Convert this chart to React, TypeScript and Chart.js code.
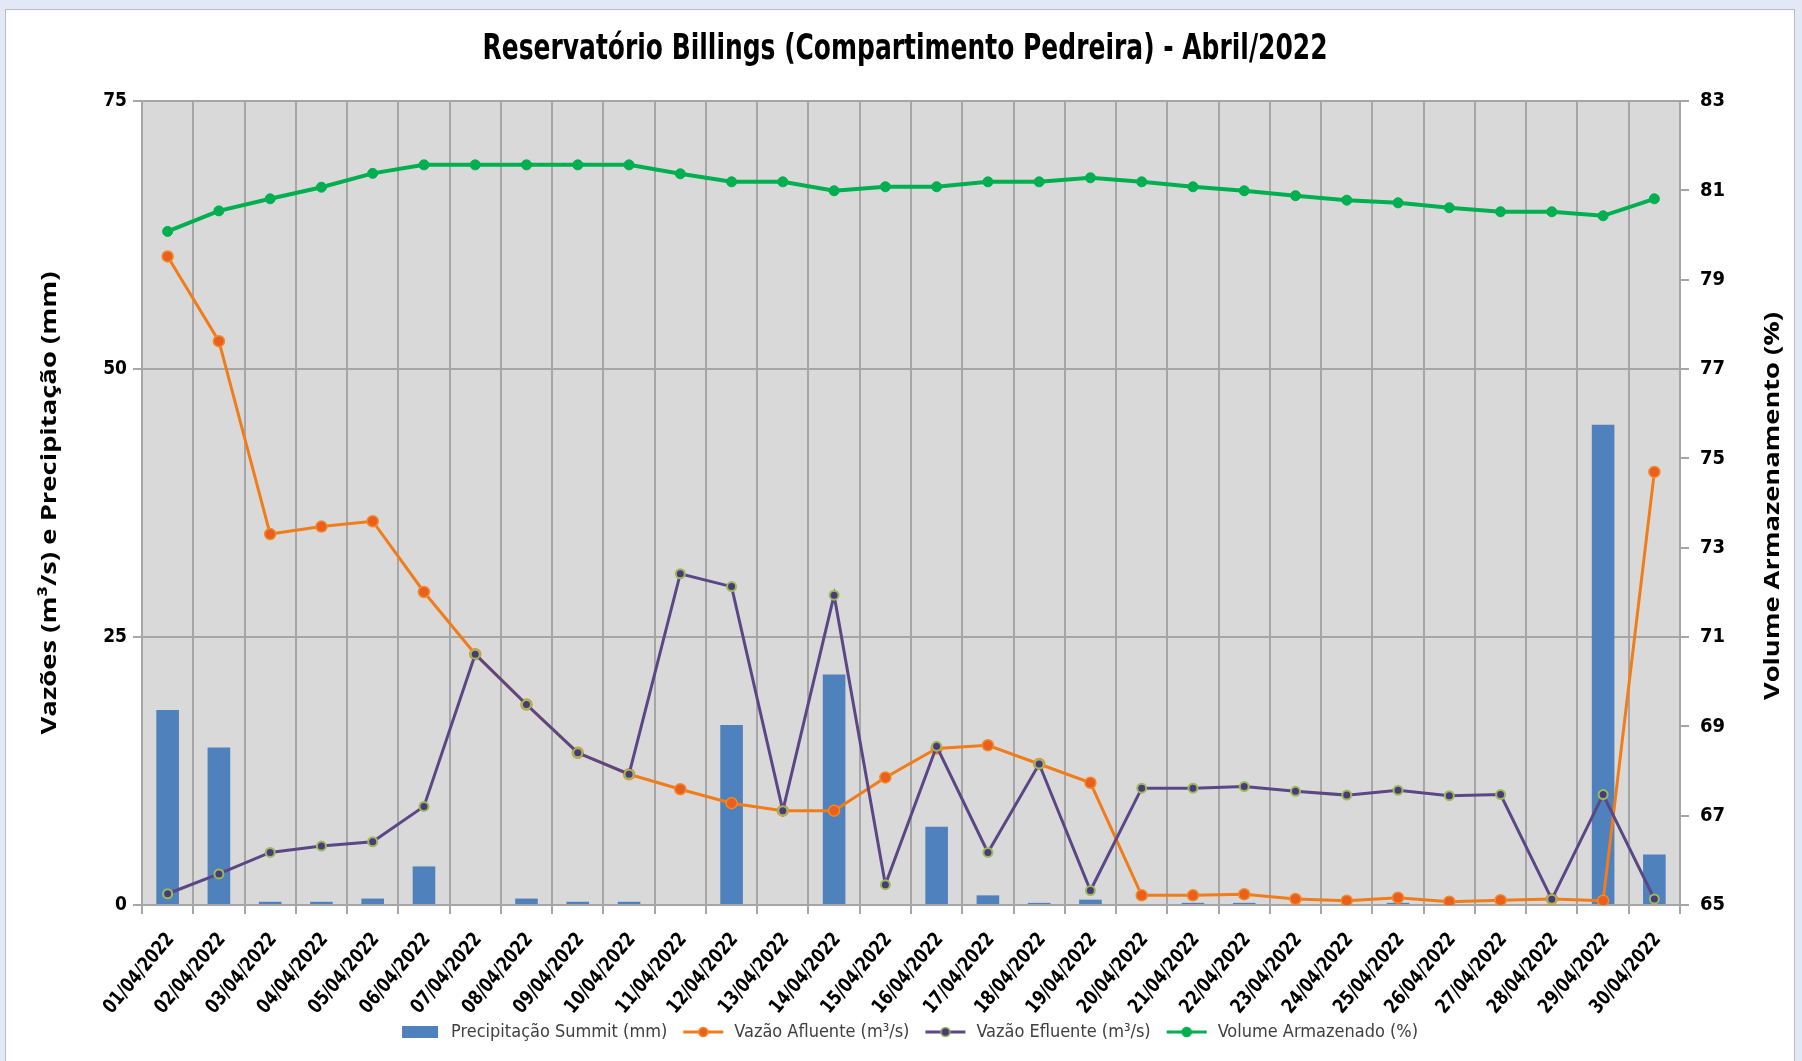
import React, { useEffect, useRef } from "react";
import { Chart, registerables } from "chart.js";

Chart.register(...registerables);

const days = [
  "01/04/2022", "02/04/2022", "03/04/2022", "04/04/2022", "05/04/2022",
  "06/04/2022", "07/04/2022", "08/04/2022", "09/04/2022", "10/04/2022",
  "11/04/2022", "12/04/2022", "13/04/2022", "14/04/2022", "15/04/2022",
  "16/04/2022", "17/04/2022", "18/04/2022", "19/04/2022", "20/04/2022",
  "21/04/2022", "22/04/2022", "23/04/2022", "24/04/2022", "25/04/2022",
  "26/04/2022", "27/04/2022", "28/04/2022", "29/04/2022", "30/04/2022",
];

const precipitacao = [
  18.2, 14.7, 0.3, 0.3, 0.6, 3.6, 0, 0.6, 0.3, 0.3,
  0, 16.8, 0, 21.5, 0, 7.3, 0.9, 0.2, 0.5, 0,
  0.2, 0.2, 0, 0, 0.2, 0, 0, 0, 44.8, 4.7,
];

const vazaoAfluente = [
  60.5, 52.6, 34.6, 35.3, 35.8, 29.2, 23.4, 18.7, 14.2, 12.2,
  10.8, 9.5, 8.8, 8.8, 11.9, 14.6, 14.9, 13.15, 11.4, 0.9,
  0.9, 1.0, 0.56, 0.4, 0.68, 0.31, 0.45, 0.56, 0.4, 40.4,
];

const vazaoEfluente = [
  1.05, 2.9, 4.9, 5.5, 5.9, 9.2, 23.4, 18.7, 14.2, 12.2,
  30.9, 29.7, 8.8, 28.9, 1.9, 14.8, 4.9, 13.15, 1.35, 10.9,
  10.9, 11.05, 10.6, 10.25, 10.7, 10.2, 10.3, 0.53, 10.3, 0.56,
];

const volumeArmazenado = [
  80.08, 80.54, 80.81, 81.07, 81.38, 81.57, 81.57, 81.57, 81.57, 81.57,
  81.37, 81.19, 81.19, 80.99, 81.08, 81.08, 81.19, 81.19, 81.28, 81.19,
  81.08, 80.99, 80.88, 80.78, 80.72, 80.61, 80.52, 80.52, 80.43, 80.81,
];

const leftTickValues = [0, 25, 50, 75];
const rightTickValues = [65, 67, 69, 71, 73, 75, 77, 79, 81, 83];

const TITLE = "Reservatório Billings (Compartimento Pedreira) - Abril/2022";
const LEFT_TITLE = "Vazões (m³/s) e Precipitação (mm)";
const RIGHT_TITLE = "Volume Armazenamento (%)";

const NARROW = "'Liberation Sans Narrow', 'DejaVu Sans Condensed', 'Liberation Sans', sans-serif";
const WIDE = "'Open Sans', 'DejaVu Sans', sans-serif";

function lineIcon(line: string, fill: string, border: string): HTMLCanvasElement {
  const c = document.createElement("canvas");
  c.width = 44;
  c.height = 16;
  const g = c.getContext("2d")!;
  g.strokeStyle = line;
  g.lineWidth = 3;
  g.beginPath();
  g.moveTo(2, 8);
  g.lineTo(42, 8);
  g.stroke();
  g.beginPath();
  g.arc(22, 8, 4.5, 0, Math.PI * 2);
  g.fillStyle = fill;
  g.fill();
  g.lineWidth = 1.5;
  g.strokeStyle = border;
  g.stroke();
  return c;
}

function boxIcon(color: string): HTMLCanvasElement {
  const c = document.createElement("canvas");
  c.width = 40;
  c.height = 14;
  const g = c.getContext("2d")!;
  g.fillStyle = color;
  g.fillRect(2, 1, 36, 12);
  return c;
}

// draws text at (x, y), rotated by angle, stretched so its length equals `len`
function fitText(ctx: CanvasRenderingContext2D, text: string, x: number, y: number, angle: number, len: number, align: CanvasTextAlign = "center") {
  const w = ctx.measureText(text).width;
  ctx.save();
  ctx.translate(x, y);
  ctx.rotate(angle);
  ctx.scale(len / w, 1);
  ctx.textAlign = align;
  ctx.textBaseline = "middle";
  ctx.fillText(text, 0, 0);
  ctx.restore();
}

const framePlugin = {
  id: "frame",
  beforeDraw(chart: any) {
    const { ctx, width, height, chartArea } = chart;
    ctx.save();
    ctx.fillStyle = "#e2e8f6";
    ctx.fillRect(0, 0, width, height);
    ctx.fillStyle = "#ffffff";
    ctx.fillRect(5, 9, width - 12, height - 9);
    ctx.strokeStyle = "#b9bcc4";
    ctx.lineWidth = 1;
    ctx.strokeRect(5.5, 9.5, width - 13, height - 9);
    ctx.fillStyle = "#d9d9d9";
    ctx.fillRect(chartArea.left, chartArea.top, chartArea.right - chartArea.left, chartArea.bottom - chartArea.top);
    ctx.restore();
  },
  afterDraw(chart: any) {
    const { ctx, chartArea } = chart;
    const midY = (chartArea.top + chartArea.bottom) / 2;
    ctx.save();
    ctx.fillStyle = "#000000";

    // chart title
    ctx.font = `bold 36px ${NARROW}`;
    fitText(ctx, TITLE, 905, 50, 0, 845);

    // axis titles
    ctx.font = `bold 22px ${WIDE}`;
    fitText(ctx, LEFT_TITLE, 50, midY, -Math.PI / 2, 463);
    fitText(ctx, RIGHT_TITLE, 1773, midY + 3, -Math.PI / 2, 388);

    // category labels
    const xs = chart.scales.x;
    ctx.font = `bold 20px ${NARROW}`;
    const ang = (-50 * Math.PI) / 180;
    days.forEach((d, i) => {
      const px = xs.getPixelForValue(i);
      fitText(ctx, d, px + 3, chartArea.bottom + 31, ang, 98, "right");
    });
    ctx.restore();
  },
};

export default function App() {
  const ref = useRef<HTMLCanvasElement | null>(null);

  useEffect(() => {
    if (!ref.current) return;
    const icons = [
      boxIcon("#4f81bd"),
      lineIcon("#f07d1a", "#ea5f1b", "#f28a2a"),
      lineIcon("#5c4786", "#4b3a7a", "#9bbb59"),
      lineIcon("#00b050", "#00b050", "#00b050"),
    ];
    const chart = new Chart(ref.current, {
      type: "bar",
      data: {
        labels: days,
        datasets: [
          {
            type: "bar",
            label: "Precipitação Summit (mm)",
            data: precipitacao,
            backgroundColor: "#4f81bd",
            yAxisID: "y",
            order: 4,
            barPercentage: 0.9,
            categoryPercentage: 0.49,
          },
          {
            type: "line",
            label: "Vazão Afluente (m³/s)",
            data: vazaoAfluente,
            borderColor: "#f07d1a",
            borderWidth: 3,
            pointRadius: 5.5,
            pointBackgroundColor: "#ea5f1b",
            pointBorderColor: "#f28a2a",
            pointBorderWidth: 1.5,
            tension: 0,
            yAxisID: "y",
            order: 2,
          },
          {
            type: "line",
            label: "Vazão Efluente (m³/s)",
            data: vazaoEfluente,
            borderColor: "#5c4786",
            borderWidth: 3,
            pointRadius: 4.5,
            pointBackgroundColor: "#4b3a7a",
            pointBorderColor: "#9bbb59",
            pointBorderWidth: 2,
            tension: 0,
            yAxisID: "y",
            order: 1,
          },
          {
            type: "line",
            label: "Volume Armazenado (%)",
            data: volumeArmazenado,
            borderColor: "#00b050",
            borderWidth: 4,
            pointRadius: 5,
            pointBackgroundColor: "#00b050",
            pointBorderColor: "#00b050",
            pointBorderWidth: 1,
            tension: 0,
            yAxisID: "y1",
            order: 0,
          },
        ],
      },
      options: {
        responsive: false,
        animation: false,
        devicePixelRatio: 1,
        layout: { padding: { left: 14, right: 0, top: 101, bottom: 10 } },
        plugins: {
          tooltip: { enabled: false },
          title: { display: false },
          legend: {
            display: true,
            position: "bottom",
            labels: {
              usePointStyle: true,
              pointStyleWidth: 44,
              padding: 14,
              color: "#404040",
              font: { family: NARROW, size: 18 },
              generateLabels: (c: any) =>
                c.data.datasets.map((ds: any, i: number) => ({
                  text: ds.label,
                  pointStyle: icons[i],
                  fillStyle: "rgba(0,0,0,0)",
                  strokeStyle: "rgba(0,0,0,0)",
                  lineWidth: 0,
                  hidden: false,
                  datasetIndex: i,
                  fontColor: "#404040",
                })),
            },
          },
        },
        scales: {
          x: {
            offset: true,
            grid: {
              offset: true,
              color: "#a6a6a6",
              lineWidth: 2,
              tickLength: 9,
            },
            border: { color: "#a6a6a6", width: 2 },
            ticks: { display: false, autoSkip: false },
            afterFit: (s: any) => {
              s.height = 104;
            },
          },
          y: {
            position: "left",
            min: 0,
            max: 75,
            afterBuildTicks: (s: any) => {
              s.ticks = leftTickValues.map((v) => ({ value: v }));
            },
            grid: { color: "#a6a6a6", lineWidth: 2, tickLength: 9 },
            border: { color: "#a6a6a6", width: 2 },
            ticks: {
              color: "#000000",
              padding: 6,
              font: { family: NARROW, size: 19, weight: "bold" },
            },
            afterFit: (s: any) => {
              s.width = 128;
            },
          },
          y1: {
            position: "right",
            min: 65,
            max: 83,
            afterBuildTicks: (s: any) => {
              s.ticks = rightTickValues.map((v) => ({ value: v }));
            },
            grid: { drawOnChartArea: false, color: "#a6a6a6", lineWidth: 2, tickLength: 9 },
            border: { color: "#a6a6a6", width: 2 },
            ticks: {
              color: "#000000",
              padding: 11,
              font: { family: NARROW, size: 20, weight: "bold" },
            },
            afterFit: (s: any) => {
              s.width = 122;
            },
          },
        },
      },
      plugins: [framePlugin],
    } as any);
    return () => chart.destroy();
  }, []);

  return (
    <div style={{ position: "fixed", left: 0, top: 0, width: 1802, height: 1061 }}>
      <canvas ref={ref} width={1802} height={1061} style={{ display: "block", width: 1802, height: 1061 }} />
    </div>
  );
}
